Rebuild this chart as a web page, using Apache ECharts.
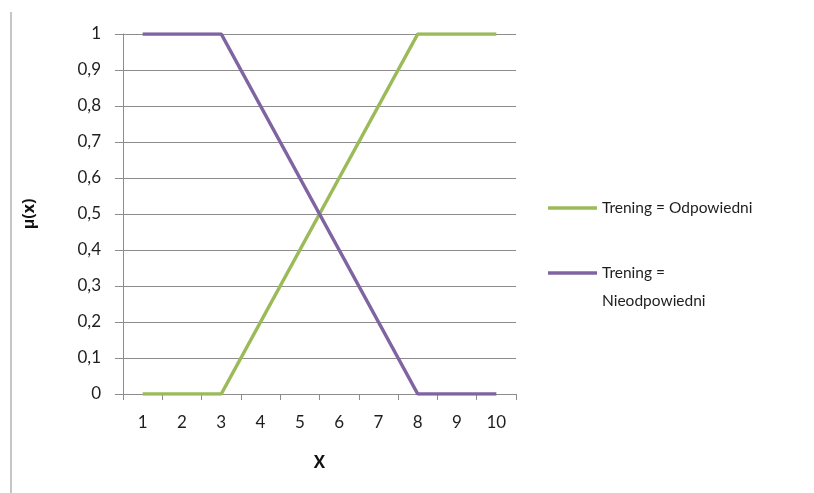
<!DOCTYPE html>
<html>
<head>
<meta charset="utf-8">
<script src="https://cdn.jsdelivr.net/npm/echarts@6/dist/echarts.min.js"></script>
<style>
  html, body { margin: 0; padding: 0; background: #fff; }
  #chart { width: 814px; height: 493px; }
</style>
</head>
<body>
<div id="chart"></div>
<script>
// Membership functions for the "Trening" variable
const categories = ['1', '2', '3', '4', '5', '6', '7', '8', '9', '10'];
const odpowiedni = [0, 0, 0, 0.2, 0.4, 0.6, 0.8, 1, 1, 1];
const nieodpowiedni = [1, 1, 1, 0.8, 0.6, 0.4, 0.2, 0, 0, 0];
const yTicks = [0, 0.1, 0.2, 0.3, 0.4, 0.5, 0.6, 0.7, 0.8, 0.9, 1];

const nameA = 'Trening = Odpowiedni';
const nameB = 'Trening = Nieodpowiedni';
const green = '#9BBB59';
const purple = '#8064A2';
const fontFamily = 'Lato, "Open Sans", sans-serif';
const boldFamily = '"Open Sans", "DejaVu Sans", sans-serif';
const gridGray = '#8c8c8c';
const textColor = '#1e1e1e';

const chart = echarts.init(document.getElementById('chart'));
chart.setOption({
  animation: false,
  textStyle: { fontFamily: fontFamily },
  grid: { left: 123, right: 298, top: 34, bottom: 99 },
  legend: [
    {
      data: [nameA],
      left: 543, top: 195,
      icon: 'rect', itemWidth: 49, itemHeight: 3.5,
      textStyle: { fontSize: 15.5, color: textColor, fontFamily: fontFamily }
    },
    {
      data: [nameB],
      left: 543, top: 232,
      icon: 'rect', itemWidth: 49, itemHeight: 3.5,
      // blank first line keeps the swatch level with "Trening ="
      formatter: function () { return '{s| }\n{t|Trening =}\n{t|Nieodpowiedni}'; },
      textStyle: {
        color: textColor, fontFamily: fontFamily,
        rich: {
          s: { fontSize: 15.5, lineHeight: 28 },
          t: { fontSize: 15.5, lineHeight: 28, color: textColor, fontFamily: fontFamily }
        }
      }
    }
  ],
  xAxis: {
    type: 'category',
    data: categories,
    boundaryGap: true,
    name: 'X',
    nameLocation: 'middle',
    nameGap: 61,
    nameTextStyle: { fontSize: 17, fontWeight: 'bold', color: '#111', fontFamily: boldFamily },
    axisLine: { lineStyle: { color: gridGray, width: 1 } },
    axisTick: { show: true, length: 6, lineStyle: { color: gridGray } },
    axisLabel: { fontSize: 17, color: textColor, margin: 20 },
    splitLine: { show: false }
  },
  yAxis: {
    type: 'value',
    min: yTicks[0],
    max: yTicks[yTicks.length - 1],
    interval: 0.1,
    name: 'μ(x)',
    nameLocation: 'middle',
    nameGap: 86,
    nameRotate: 90,
    nameTextStyle: { fontSize: 16, fontWeight: 'bold', color: '#111', fontFamily: boldFamily },
    axisLine: { show: true, lineStyle: { color: gridGray, width: 1 } },
    axisTick: { show: true, length: 8, lineStyle: { color: gridGray } },
    axisLabel: {
      fontSize: 17, color: textColor, margin: 22,
      formatter: function (v) { return (Math.round(v * 10) / 10).toString().replace('.', ','); }
    },
    splitLine: { show: true, lineStyle: { color: gridGray, width: 1 } }
  },
  series: [
    {
      name: nameA, type: 'line', data: odpowiedni,
      showSymbol: false, symbol: 'none',
      lineStyle: { color: green, width: 3.5 }, itemStyle: { color: green }
    },
    {
      name: nameB, type: 'line', data: nieodpowiedni,
      showSymbol: false, symbol: 'none',
      lineStyle: { color: purple, width: 3.5 }, itemStyle: { color: purple }
    }
  ],
  graphic: [
    {
      type: 'line',
      shape: { x1: 11, y1: 12, x2: 11, y2: 493 },
      style: { stroke: '#8c8c8c', lineWidth: 1 }
    }
  ]
});
</script>
</body>
</html>
